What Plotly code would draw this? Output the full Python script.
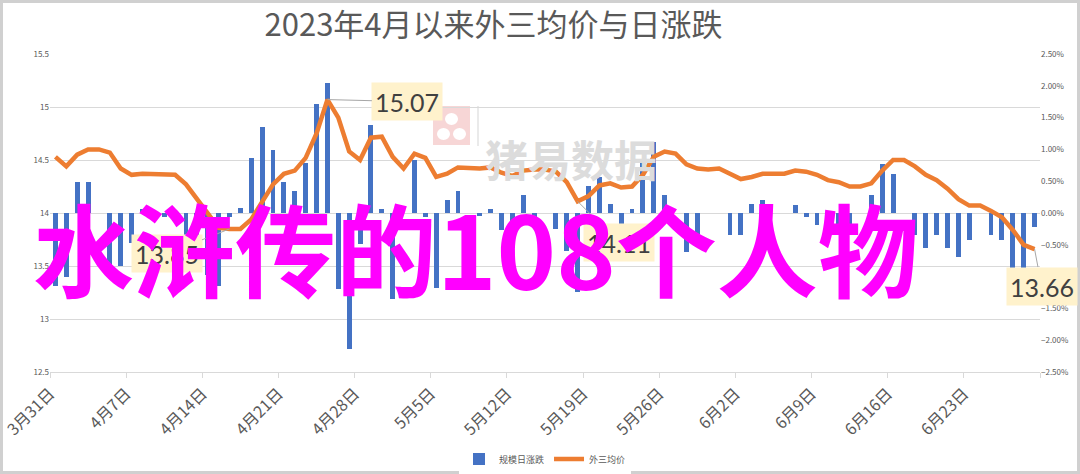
import pandas as pd
import plotly.graph_objects as go

# ---------------- data ----------------
start_date = "2023-03-31"
n_days = 91
dates = pd.date_range(start_date, periods=n_days, freq="D")

# 外三均价 (元/kg), daily
price = [14.53, 14.44, 14.55, 14.60, 14.60, 14.57, 14.42, 14.36, 14.37, 14.37,
         14.37, 14.36, 14.27, 14.13, 13.99, 13.86, 13.85, 13.85, 13.94, 14.11,
         14.27, 14.37, 14.40, 14.52, 14.75, 15.07, 14.90, 14.58, 14.50, 14.71,
         14.72, 14.53, 14.42, 14.56, 14.52, 14.34, 14.37, 14.43, 14.42, 14.42,
         14.43, 14.38, 14.35, 14.40, 14.41, 14.41, 14.39, 14.29, 14.11, 14.16,
         14.26, 14.28, 14.24, 14.25, 14.36, 14.53, 14.58, 14.56, 14.46, 14.42,
         14.41, 14.42, 14.37, 14.32, 14.34, 14.37, 14.37, 14.37, 14.40, 14.39,
         14.36, 14.31, 14.29, 14.25, 14.25, 14.28, 14.40, 14.50, 14.50, 14.44,
         14.36, 14.31, 14.23, 14.13, 14.07, 14.07, 14.02, 13.96, 13.84, 13.70,
         13.66]

# 规模日涨跌 (%), daily
change_pct = [-1.14, -1.00, 0.48, 0.48, 0.00, -0.82, -0.83, -0.47, 0.07, 0.00,
              -0.06, 0.00, -0.50, -0.75, -0.98, -1.14, -0.07, 0.08, 0.87, 1.36,
              0.99, 0.49, 0.35, 0.78, 1.72, 2.04, -1.19, -2.14, -0.48, 1.38,
              0.07, -1.35, 0.00, 0.83, -0.06, -1.18, 0.20, 0.35, 0.00, -0.05,
              0.07, -0.26, -0.20, 0.28, -0.12, 0.00, -0.25, -0.60, -1.24, 0.43,
              0.57, 0.14, -0.19, 0.07, 0.84, 1.12, 0.28, 0.00, -0.61, -0.33,
              0.00, 0.00, -0.34, -0.34, 0.14, 0.20, 0.00, 0.00, 0.13, -0.06,
              -0.19, 0.00, -0.30, -0.25, 0.00, 0.28, 0.77, 0.62, 0.00, -0.34,
              -0.55, -0.34, -0.55, -0.69, -0.42, 0.00, -0.35, -0.43, -0.95, -0.95,
              -0.22]

tick_dates = ["2023-03-31", "2023-04-07", "2023-04-14", "2023-04-21", "2023-04-28",
              "2023-05-05", "2023-05-12", "2023-05-19", "2023-05-26", "2023-06-02",
              "2023-06-09", "2023-06-16", "2023-06-23", "2023-06-30"]
tick_text = ["3月31日", "4月7日", "4月14日", "4月21日", "4月28日", "5月5日", "5月12日",
             "5月19日", "5月26日", "6月2日", "6月9日", "6月16日", "6月23日", ""]

label_idx = [16, 25, 48, 90]          # points with data labels
label_offsets = [(-63, 25), (80, 2), (41, 41), (7, 37)]   # style: label box offset (px)

title_text = "2023年4月以来外三均价与日涨跌"
overlay_text = "水浒传的108个人物"
watermark_text = "猪易数据"
bar_name = "规模日涨跌"
line_name = "外三均价"

# ---------------- figure ----------------
FONT = "Noto Sans CJK SC"
GREY = "#595959"
x_mid = dates + pd.Timedelta(hours=12)

fig = go.Figure()
fig.add_trace(go.Bar(
    x=x_mid, y=change_pct, name=bar_name, yaxis="y",
    marker=dict(color="#4472C4", line=dict(width=0)),
    width=0.45 * 86400000,
))
fig.add_trace(go.Scatter(
    x=x_mid, y=price, name=line_name, yaxis="y2", mode="lines",
    line=dict(color="#ED7D31", width=4.5),
))

W, H = 1080, 474
ml, mr, mt, mb = 50, 40, 54, 102
pw, ph = W - ml - mr, H - mt - mb


def px_x(px):
    return (px - ml) / pw


def px_y(py):
    return (H - mb - py) / ph


annotations = []
for i, (ax, ay) in zip(label_idx, label_offsets):
    annotations.append(dict(
        x=x_mid[i], y=price[i], xref="x", yref="y2",
        text=f"{price[i]:.2f}", showarrow=True, arrowhead=0, arrowwidth=1,
        arrowcolor="#a6a6a6", ax=ax, ay=ay, standoff=0,
        bgcolor="#FFF2CC", borderpad=2, width=66, height=33,
        font=dict(family="Lato, Noto Sans", size=25, color="#404040"),
    ))

# watermark
annotations.append(dict(
    x=px_x(571), y=px_y(125), xref="paper", yref="paper", showarrow=False,
    text=watermark_text, font=dict(family=FONT, size=43, color="#dcdcdc", weight="bold"),
))

# overlay text (on top)
annotations.append(dict(
    x=px_x(476), y=px_y(246), xref="paper", yref="paper", showarrow=False,
    text=overlay_text, font=dict(family=FONT, size=101, color="#FF00FF", weight="bold"),
))

shapes = [
    # watermark logo
    dict(type="rect", xref="paper", yref="paper", x0=px_x(433), x1=px_x(470),
         y0=px_y(145), y1=px_y(106), fillcolor="#f7d6d6", line=dict(width=0), layer="below"),
    dict(type="circle", xref="paper", yref="paper", x0=px_x(445), x1=px_x(458),
         y0=px_y(125), y1=px_y(113), fillcolor="white", line=dict(width=0), layer="below"),
    dict(type="circle", xref="paper", yref="paper", x0=px_x(437), x1=px_x(450),
         y0=px_y(140), y1=px_y(128), fillcolor="white", line=dict(width=0), layer="below"),
    dict(type="circle", xref="paper", yref="paper", x0=px_x(453), x1=px_x(466),
         y0=px_y(140), y1=px_y(128), fillcolor="white", line=dict(width=0), layer="below"),
    dict(type="line", xref="paper", yref="paper", x0=px_x(478), x1=px_x(478),
         y0=px_y(146), y1=px_y(106), line=dict(color="#e3e3e3", width=1.5), layer="below"),
    # chart border
    dict(type="rect", xref="paper", yref="paper", x0=px_x(1.5), x1=px_x(1078.5),
         y0=px_y(472.5), y1=px_y(1.5), line=dict(color="#d0d0d0", width=3), layer="below"),
]

fig.update_layout(
    width=W, height=H,
    margin=dict(l=ml, r=mr, t=mt, b=mb, autoexpand=False),
    paper_bgcolor="white", plot_bgcolor="white",
    font=dict(family=FONT, color=GREY),
    title=dict(text=title_text, x=0.457, xanchor="center", y=1 - 25 / H, yanchor="middle",
               font=dict(family=FONT, size=31, color=GREY)),
    bargap=0,
    showlegend=True,
    legend=dict(orientation="h", x=0.5, xanchor="center", y=px_y(459), yanchor="middle",
                font=dict(size=9, color=GREY), itemwidth=30, traceorder="normal"),
    xaxis=dict(type="date", range=["2023-03-31", "2023-06-30"], automargin=False,
               tickmode="array", tickvals=tick_dates, ticktext=tick_text,
               tickangle=-45, tickfont=dict(size=16, color=GREY),
               ticklabeloverflow="allow",
               ticks="outside", ticklen=5, tickcolor="#d9d9d9",
               showline=True, linecolor="#d9d9d9", linewidth=1, showgrid=False),
    yaxis=dict(range=[-2.5, 2.5], dtick=0.5, tick0=0, side="right", automargin=False,
               tickformat=".2f", ticksuffix="%", showgrid=False, zeroline=False,
               tickfont=dict(size=8, color=GREY)),
    yaxis2=dict(range=[12.5, 15.5], dtick=0.5, tick0=12.5, side="left", overlaying="y",
                automargin=False,
                showgrid=True, gridcolor="#d9d9d9", zeroline=False,
                tickfont=dict(size=8, color=GREY)),
    annotations=annotations,
    shapes=shapes,
)

fig.write_html("out.html", config={"displayModeBar": False},
               post_script="document.body.style.margin='0';")
